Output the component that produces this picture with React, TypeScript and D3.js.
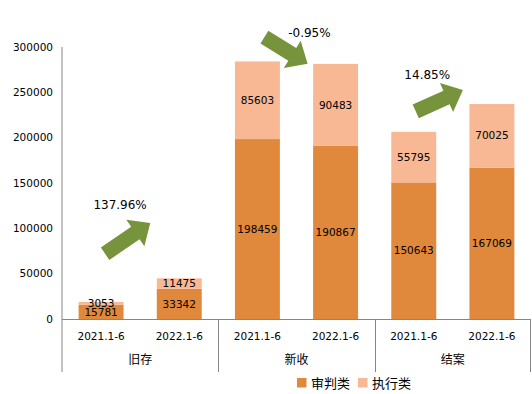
import React from 'react';
import * as d3 from 'd3';

// data
const groups = ['旧存', '新收', '结案'];
const periods = ['2021.1-6', '2022.1-6'];
const seriesNames = ['审判类', '执行类'];
const shenpan = [15781, 33342, 198459, 190867, 150643, 167069];
const zhixing = [3053, 11475, 85603, 90483, 55795, 70025];
const changeLabels = ['137.96%', '-0.95%', '14.85%'];
const yTicks = [0, 50000, 100000, 150000, 200000, 250000, 300000];

// arrow annotations: tail/tip as [offset from bar centre, value]
const arrows = [
  { tail: [4, 72000], tip: [-29, 106000], label: [120 - 101, 126500] },
  { tail: [7, 311000], tip: [-28, 281500], label: [310 - 258, 316000] },
  { tail: [2, 229000], tip: [-29, 252500], label: [428 - 414.5, 269000] },
];

const colors = ['#E0883B', '#F8B894'];
const W = 532;
const H = 394;
const left = 62;
const right = 531;
const top = 47;
const bottom = 319;

const App: React.FC = () => {
  const y = d3.scaleLinear().domain([0, 300000]).range([bottom, top]);
  const gx = d3.scaleBand<string>().domain(groups).range([left, right]).padding(0);
  const px = d3.scaleBand<string>().domain(periods).range([0, gx.bandwidth()]).padding(0);
  const barW = px.bandwidth() * 0.575;

  const bars = groups.flatMap((g, gi) =>
    periods.map((p, pi) => {
      const i = gi * 2 + pi;
      const cx = (gx(g) ?? 0) + (px(p) ?? 0) + px.bandwidth() / 2;
      return { g, p, cx, a: shenpan[i], b: zhixing[i] };
    })
  );

  const arrowPath = (x0: number, y0: number, x1: number, y1: number) => {
    const len = Math.hypot(x1 - x0, y1 - y0);
    const ang = (Math.atan2(y1 - y0, x1 - x0) * 180) / Math.PI;
    const sw = 7.5, hw = 16, hl = 18;
    const pts = [
      [0, -sw], [len - hl, -sw], [len - hl, -hw], [len, 0],
      [len - hl, hw], [len - hl, sw], [0, sw],
    ];
    return { d: 'M' + pts.map(q => q.join(',')).join('L') + 'Z', t: `translate(${x0},${y0}) rotate(${ang})` };
  };

  const font = '"DejaVu Sans", Verdana, sans-serif';
  const cjk = '"Noto Sans CJK SC", sans-serif';

  return (
    <svg width={W} height={H} style={{ position: 'absolute', left: 0, top: 0, background: '#fff' }}>
      {/* y tick labels */}
      {yTicks.map(t => (
        <text key={t} x={53} y={y(t)} dy="0.35em" textAnchor="end" fontSize={10.5} fontFamily={font} fill="#000">
          {t}
        </text>
      ))}

      {/* bars */}
      {bars.map((b, i) => (
        <g key={i}>
          <rect x={b.cx - barW / 2} y={y(b.a)} width={barW} height={y(0) - y(b.a)} fill={colors[0]} />
          <rect x={b.cx - barW / 2} y={y(b.a + b.b)} width={barW} height={y(b.a) - y(b.a + b.b)} fill={colors[1]} />
          <text x={b.cx} y={y(b.a / 2)} dy="0.35em" textAnchor="middle" fontSize={10.5} fontFamily={font} fill="#000">
            {b.a}
          </text>
          <text x={b.cx} y={y(b.a + b.b / 2)} dy="0.35em" textAnchor="middle" fontSize={10.5} fontFamily={font} fill="#000">
            {b.b}
          </text>
          <text x={b.cx} y={336} dy="0.35em" textAnchor="middle" fontSize={10.5} fontFamily={font} fill="#000">
            {b.p}
          </text>
        </g>
      ))}

      {/* axes */}
      <line x1={left} x2={left} y1={top} y2={372} stroke="#868686" />
      <line x1={left} x2={right} y1={bottom + 0.5} y2={bottom + 0.5} stroke="#868686" />
      {groups.map((g, gi) => {
        const x0 = gx(g) ?? 0;
        return (
          <g key={g}>
            {gi > 0 && <line x1={Math.round(x0) + 0.5} x2={Math.round(x0) + 0.5} y1={bottom} y2={372} stroke="#868686" />}
            <text x={x0 + gx.bandwidth() / 2} y={360} dy="0.35em" textAnchor="middle" fontSize={12} fontFamily={cjk} fill="#000">
              {g}
            </text>
          </g>
        );
      })}
      <line x1={right - 0.5} x2={right - 0.5} y1={bottom} y2={372} stroke="#868686" />

      {/* arrows */}
      {arrows.map((a, i) => {
        const c1 = bars[i * 2].cx;
        const c2 = bars[i * 2 + 1].cx;
        const ap = arrowPath(c1 + a.tail[0], y(a.tail[1]), c2 + a.tip[0], y(a.tip[1]));
        return (
          <g key={i}>
            <path d={ap.d} transform={ap.t} fill="#77933C" />
            <text x={c1 + a.label[0]} y={y(a.label[1])} dy="0.35em" textAnchor="middle" fontSize={12} fontFamily={font} fill="#000">
              {changeLabels[i]}
            </text>
          </g>
        );
      })}

      {/* legend */}
      {seriesNames.map((s, i) => (
        <g key={s} transform={`translate(${297 + i * 61},383)`}>
          <rect x={0} y={-5} width={9.5} height={9.5} fill={colors[i]} />
          <text x={14} y={0} dy="0.35em" fontSize={13} fontFamily={cjk} fill="#000">
            {s}
          </text>
        </g>
      ))}
    </svg>
  );
};

export default App;
